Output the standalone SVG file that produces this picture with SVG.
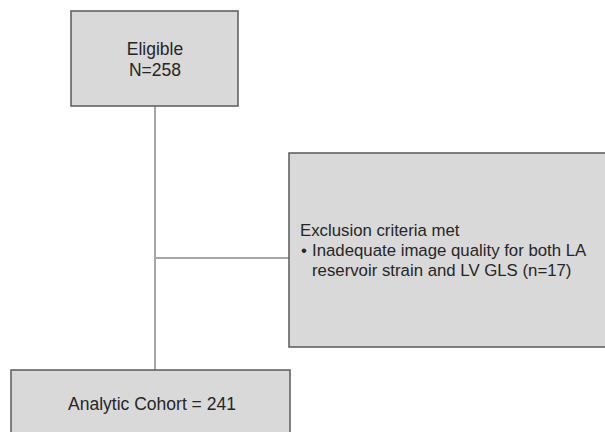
<svg xmlns="http://www.w3.org/2000/svg" width="605" height="432" viewBox="0 0 605 432">
<style>
.box{fill:#d9d9d9;stroke:#5a5a5a;stroke-width:1.5}
.line{stroke:#a6a6a6;stroke-width:2;fill:none}
text{font-family:"Liberation Sans",Arial,sans-serif;font-size:17.5px;fill:#262626}
.small{font-size:16.8px}
</style>
<rect width="605" height="432" fill="#ffffff"/>
<g id="connectors">
<line class="line" x1="155" y1="106" x2="155" y2="370"/>
<line class="line" x1="155" y1="258" x2="289" y2="258"/>
</g>
<g id="eligible">
<rect class="box" x="71" y="11" width="167" height="95"/>
<text x="155" y="55" text-anchor="middle">Eligible</text>
<text x="155" y="76" text-anchor="middle">N=258</text>
</g>
<g id="exclusion">
<rect class="box" x="289" y="153" width="330" height="194"/>
<text class="small" x="300" y="236">Exclusion criteria met</text>
<text class="small" x="301" y="256">•</text>
<text class="small" x="312" y="256">Inadequate image quality for both LA</text>
<text class="small" x="312" y="276">reservoir strain and LV GLS (n=17)</text>
</g>
<g id="analytic">
<rect class="box" x="11" y="370" width="279" height="80"/>
<text x="152" y="410" text-anchor="middle">Analytic Cohort = 241</text>
</g>
</svg>
